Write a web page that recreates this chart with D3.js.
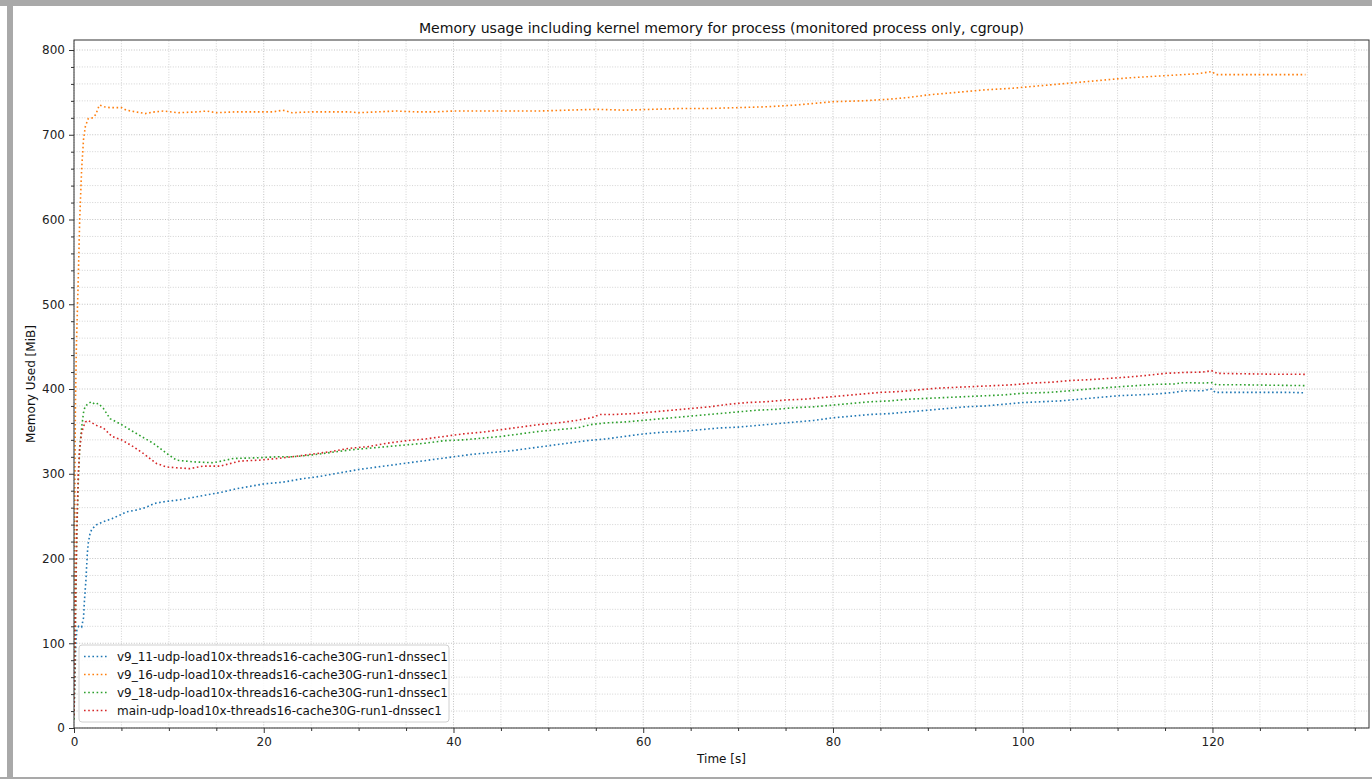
<!DOCTYPE html>
<html>
<head>
<meta charset="utf-8">
<script src="https://cdn.jsdelivr.net/npm/d3@7"></script>
<style>
  html, body { margin: 0; padding: 0; background: #fff; }
  svg { display: block; font-family: "DejaVu Sans", sans-serif; }
</style>
</head>
<body>
<div id="viz"></div>
<script>
// Memory usage chart — four runs, dotted lines

const TITLE = "Memory usage including kernel memory for process (monitored process only, cgroup)";
const X_LABEL = "Time [s]";
const Y_LABEL = "Memory Used [MiB]";

const SERIES_NAMES = [
  "v9_11-udp-load10x-threads16-cache30G-run1-dnssec1",
  "v9_16-udp-load10x-threads16-cache30G-run1-dnssec1",
  "v9_18-udp-load10x-threads16-cache30G-run1-dnssec1",
  "main-udp-load10x-threads16-cache30G-run1-dnssec1"
];
const COLORS = ["#1f77b4", "#ff7f0e", "#2ca02c", "#d62728"];

const X_TICKS = [0, 20, 40, 60, 80, 100, 120];
const Y_TICKS = [0, 100, 200, 300, 400, 500, 600, 700, 800];

// [time s, MiB]
const v9_11 = [
  [0,15],[0.1,60],[0.2,100],[0.3,116],[0.5,120],[0.8,119],[1.0,130],[1.1,150],[1.26,175],[1.4,205],
  [1.5,218],[1.7,230],[1.9,235],[2.4,240],[3,243],[4,247],[5,252],[5.5,255],[6.5,257],[7.5,260],
  [8.5,265],[9.5,267],[11,269],[12.5,272],[14,275],[15.5,278],[17,282],[18.5,285],[20,288],[22,290],
  [24,294],[26,297],[28,301],[30,305],[32,308],[34,311],[36,314],[38,317],[40,320],[42,323],
  [44,325],[46,327],[48,330],[50,333],[52,336],[54,339],[56,341],[58,344],[60,347],[62,349],
  [64,350],[66,352],[68,354],[70,355],[72,357],[74,359],[76,361],[78,363],[80,366],[82,368],
  [84,370],[86,371],[88,373],[90,375],[92,377],[94,379],[96,380],[98,382],[100,384],[102,385],
  [104,386],[106,388],[108,390],[110,392],[112,393],[114,394],[116,396],[117,398],[119,398],[119.9,400],
  [120.3,396],[122,396],[124,396],[126,396],[128,396],[129.8,395.5]
];

const v9_16 = [
  [0,15],[0.05,150],[0.1,300],[0.15,380],[0.25,450],[0.45,530],[0.6,600],[0.8,658],[1.0,694],[1.2,710],
  [1.5,719],[2.0,720],[2.3,724],[2.67,735],[3.2,733],[3.8,732],[5,732],[5.5,729],[6.5,727],[7.5,725],
  [8.5,727],[9.4,728],[11,726],[13,727],[14,728],[15,726],[17,727],[19,727],[21,727],[22,729],
  [23,726],[25,727],[27,727],[29,727],[30,726],[32,727],[34,728],[36,727],[38,727],[40,728],
  [43,728],[46,728],[49,728],[52,729],[55,730],[58,729],[61,730],[64,731],[67,731],[70,732],
  [73,733],[76,735],[78,737],[80,739],[83,740],[86,742],[88,744],[90,747],[93,750],[96,753],
  [99,755],[102,758],[105,761],[108,764],[111,767],[114,769],[117,771],[118.5,772],[119.9,774.5],[120.4,771],
  [123,771],[126,771],[129.8,771]
];

const v9_18 = [
  [0,10],[0.1,80],[0.2,160],[0.3,230],[0.45,290],[0.6,330],[0.81,355],[1.0,372],[1.16,379],[1.5,383],
  [1.86,385],[2.2,382],[2.56,383],[3.1,377],[3.8,365],[4.85,359],[5.9,352],[7.1,344],[8.36,336],[9.77,324],
  [10.8,316],[12.6,314],[14.7,313],[16.8,318],[19.6,319],[21.4,320],[23,320],[25,322],[27,325],[29,328],
  [31,330],[33,332],[35,334],[37,336],[39,339],[41,340],[43,342],[45,344],[47,347],[49,350],
  [51,352],[53,354],[54.5,358],[56,360],[58,361],[60,363],[62,365],[64,367],[66,369],[68,371],
  [70,373],[72,375],[74,376],[76,378],[78,379],[80,381],[82,383],[84,385],[86,386],[88,388],
  [90,389],[92,390],[94,391],[96,392],[98,393],[100,395],[102.8,396],[105,398],[107,400],[110.2,402.7],
  [112,404],[114,405.5],[116,406],[117,407.5],[119,407],[119.9,407.5],[120.4,405],[123,405],[126,404.5],[129.8,404]
];

const mainRun = [
  [0,15],[0.1,90],[0.2,170],[0.3,240],[0.45,300],[0.6,330],[0.8,348],[0.98,355],[1.2,361],[1.5,363],
  [1.9,360],[2.4,357],[3.1,354],[4.0,344],[5.0,340],[6.25,332],[7.3,324],[8.7,312],[9.77,308],[10.8,307],
  [12.2,306],[13.6,309],[15.4,309],[17.5,315],[19.5,316],[21.4,318],[23,320],[25,323],[27,326],[29,330],
  [31,332],[33,336],[35,339],[37,341],[39,344],[41,347],[43,349],[45,352],[47,355],[49,358],
  [51,360],[53,363],[54.5,366],[55.5,370],[57,370],[59,371],[61,373],[63,375],[65,377],[67,379],
  [69,382],[71,384],[73,385],[75,387],[77,388],[79,390],[81,392],[83,394],[85,396],[87,397],
  [89,399],[91,401],[93,402],[95,403],[97,404],[99,405],[101,407],[103,408],[105,410],[107,411],
  [109.2,412.6],[111,414],[113,416],[115.1,418.5],[117,419.5],[119,420],[119.9,421.6],[120.5,418.5],[123,418],[126,417.5],
  [129.8,417.3]
];

const SERIES = [v9_11, v9_16, v9_18, mainRun];

const width = 1372, height = 779;
const margin = { left: 74, right: 3, top: 40, bottom: 51 };

const svg = d3.select("#viz").append("svg")
  .attr("width", width)
  .attr("height", height);

// window frame
svg.append("rect").attr("x", 0).attr("y", 0).attr("width", width).attr("height", 6).attr("fill", "#a9a9a9");
svg.append("rect").attr("x", 7).attr("y", 0).attr("width", 6).attr("height", height).attr("fill", "#a9a9a9");
svg.append("rect").attr("x", 0).attr("y", 777).attr("width", width).attr("height", 2).attr("fill", "#a9a9a9");

const x = d3.scaleLinear().domain([0, 136.5]).range([margin.left, width - margin.right]);
const y = d3.scaleLinear().domain([0, 811.8]).range([height - margin.bottom, margin.top]);

const x0 = x.range()[0], x1 = x.range()[1];
const y0 = y.range()[0], y1 = y.range()[1];

// grid (minor + major)
const xMinor = d3.range(0, 136.5, 5);
const yMinor = d3.range(0, 811.8, 20);

const grid = svg.append("g");
grid.selectAll(".gx").data(xMinor).enter().append("line")
  .attr("x1", d => x(d)).attr("x2", d => x(d))
  .attr("y1", y0).attr("y2", y1)
  .attr("stroke", d => d % 20 === 0 ? "#b4b4b4" : "#c8c8c8")
  .attr("stroke-width", 0.8)
  .attr("stroke-dasharray", "1,1.6");
grid.selectAll(".gy").data(yMinor).enter().append("line")
  .attr("x1", x0).attr("x2", x1)
  .attr("y1", d => y(d)).attr("y2", d => y(d))
  .attr("stroke", d => d % 100 === 0 ? "#b4b4b4" : "#c8c8c8")
  .attr("stroke-width", 0.8)
  .attr("stroke-dasharray", "1,1.6");

// lines
const line = d3.line().x(d => x(d[0])).y(d => y(d[1]));

svg.append("defs").append("clipPath").attr("id", "clip")
  .append("rect").attr("x", x0).attr("y", y1).attr("width", x1 - x0).attr("height", y0 - y1);

const plot = svg.append("g").attr("clip-path", "url(#clip)");
SERIES.forEach((s, i) => {
  plot.append("path")
    .datum(s)
    .attr("fill", "none")
    .attr("stroke", COLORS[i])
    .attr("stroke-width", 1.6)
    .attr("stroke-dasharray", "1.6,2.6")
    .attr("d", line);
});

// axes
svg.append("g")
  .attr("transform", `translate(0,${y0})`)
  .call(d3.axisBottom(x).tickValues(X_TICKS).tickSize(5).tickPadding(4).tickFormat(d3.format("d")));
svg.append("g")
  .attr("transform", `translate(0,${y0})`)
  .call(d3.axisBottom(x).tickValues(xMinor.filter(d => d % 20 !== 0)).tickSize(3).tickFormat(""));

svg.append("g")
  .attr("transform", `translate(${x0},0)`)
  .call(d3.axisLeft(y).tickValues(Y_TICKS).tickSize(5).tickPadding(4).tickFormat(d3.format("d")));
svg.append("g")
  .attr("transform", `translate(${x0},0)`)
  .call(d3.axisLeft(y).tickValues(yMinor.filter(d => d % 100 !== 0)).tickSize(3).tickFormat(""));

svg.selectAll(".tick text")
  .attr("font-family", "DejaVu Sans, sans-serif")
  .attr("font-size", 12)
  .attr("fill", "#222");
svg.selectAll(".tick line").attr("stroke", "#333");
svg.selectAll(".domain").remove();

// frame
svg.append("rect")
  .attr("x", x0).attr("y", y1)
  .attr("width", x1 - x0).attr("height", y0 - y1)
  .attr("fill", "none")
  .attr("stroke", "#333")
  .attr("stroke-width", 1);

// texts
svg.append("text")
  .attr("x", (x0 + x1) / 2).attr("y", 33)
  .attr("text-anchor", "middle")
  .attr("font-size", 14.1)
  .attr("fill", "#111")
  .text(TITLE);

svg.append("text")
  .attr("x", (x0 + x1) / 2).attr("y", 763)
  .attr("text-anchor", "middle")
  .attr("font-size", 12)
  .attr("fill", "#111")
  .text(X_LABEL);

svg.append("text")
  .attr("transform", `translate(35,${(y0 + y1) / 2}) rotate(-90)`)
  .attr("text-anchor", "middle")
  .attr("font-size", 12)
  .attr("fill", "#111")
  .text(Y_LABEL);

// legend
const legend = svg.append("g").attr("transform", "translate(79,645)");
legend.append("rect")
  .attr("width", 370).attr("height", 77)
  .attr("rx", 3)
  .attr("fill", "rgba(255,255,255,0.85)")
  .attr("stroke", "#d0d0d0");

SERIES_NAMES.forEach((name, i) => {
  const ly = 11.5 + i * 18;
  legend.append("line")
    .attr("x1", 5).attr("x2", 30)
    .attr("y1", ly).attr("y2", ly)
    .attr("stroke", COLORS[i])
    .attr("stroke-width", 1.6)
    .attr("stroke-dasharray", "1.6,2.6");
  legend.append("text")
    .attr("x", 38).attr("y", ly + 4.5)
    .attr("font-size", 12)
    .attr("fill", "#111")
    .text(name);
});
</script>
</body>
</html>
